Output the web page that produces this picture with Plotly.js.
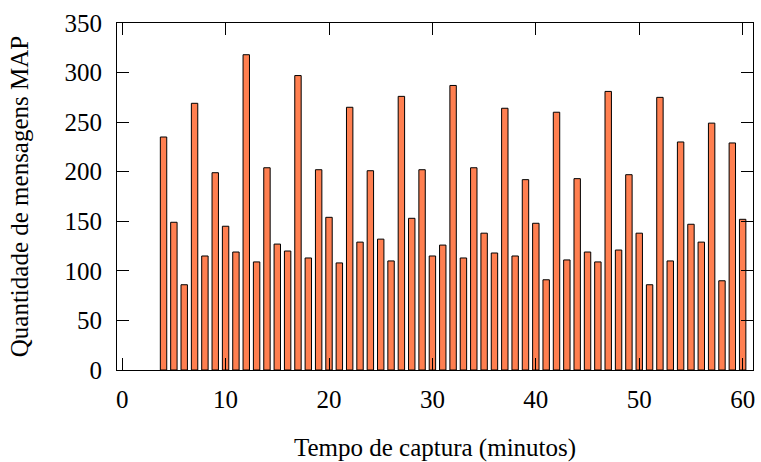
<!DOCTYPE html>
<html>
<head>
<meta charset="utf-8">
<script src="https://cdn.plot.ly/plotly-3.0.1.min.js"></script>
<style>html,body{margin:0;padding:0;background:#fff;}#chart{width:761px;height:462px;}</style>
</head>
<body>
<div id="chart"></div>
<script>
const minutes = [4,5,6,7,8,9,10,11,12,13,14,15,16,17,18,19,20,21,22,23,24,25,26,27,28,29,30,31,32,33,34,35,36,37,38,39,40,41,42,43,44,45,46,47,48,49,50,51,52,53,54,55,56,57,58,59,60];
const messages = [235,149,86,269,115,199,145,119,318,109,204,127,120,297,113,202,154,
  108,265,129,201,132,110,276,153,202,115,126,287,113,204,138,118,264,115,192,148,
  91,260,111,193,119,109,281,121,197,138,86,275,110,230,147,129,249,90,229,152];
const xTicks = [0,10,20,30,40,50,60];
const yTicks = [0,50,100,150,200,250,300,350];

const font = {family: '"Liberation Serif", "Times New Roman", serif', size: 25, color: '#000'};

Plotly.newPlot('chart', [{
  type: 'bar',
  x: minutes,
  y: messages,
  width: 0.62,
  marker: {color: '#ff7f50', line: {color: '#000', width: 1}},
  hoverinfo: 'x+y'
}], {
  width: 761, height: 462,
  margin: {l: 117, r: 8, t: 23, b: 92},
  paper_bgcolor: '#fff', plot_bgcolor: '#fff',
  font: font,
  showlegend: false,
  xaxis: {
    range: [-0.5, 61],
    tickvals: xTicks, ticktext: xTicks.map(String),
    ticks: 'inside', ticklen: 12, tickwidth: 1, tickcolor: '#000',
    showline: true, linecolor: '#000', linewidth: 1, mirror: 'ticks',
    showgrid: false, zeroline: false,
    tickfont: font, ticklabelstandoff: 7,
    title: {text: 'Tempo de captura (minutos)', font: font, standoff: 27}
  },
  yaxis: {
    range: [0, 350],
    tickvals: yTicks, ticktext: yTicks.map(String),
    ticks: 'inside', ticklen: 12, tickwidth: 1, tickcolor: '#000',
    showline: true, linecolor: '#000', linewidth: 1, mirror: 'ticks',
    showgrid: false, zeroline: false,
    tickfont: font, ticklabelstandoff: 9,
    title: {text: 'Quantidade de mensagens MAP', font: font, standoff: 28}
  }
}, {displayModeBar: false, staticPlot: true});
</script>
</body>
</html>
